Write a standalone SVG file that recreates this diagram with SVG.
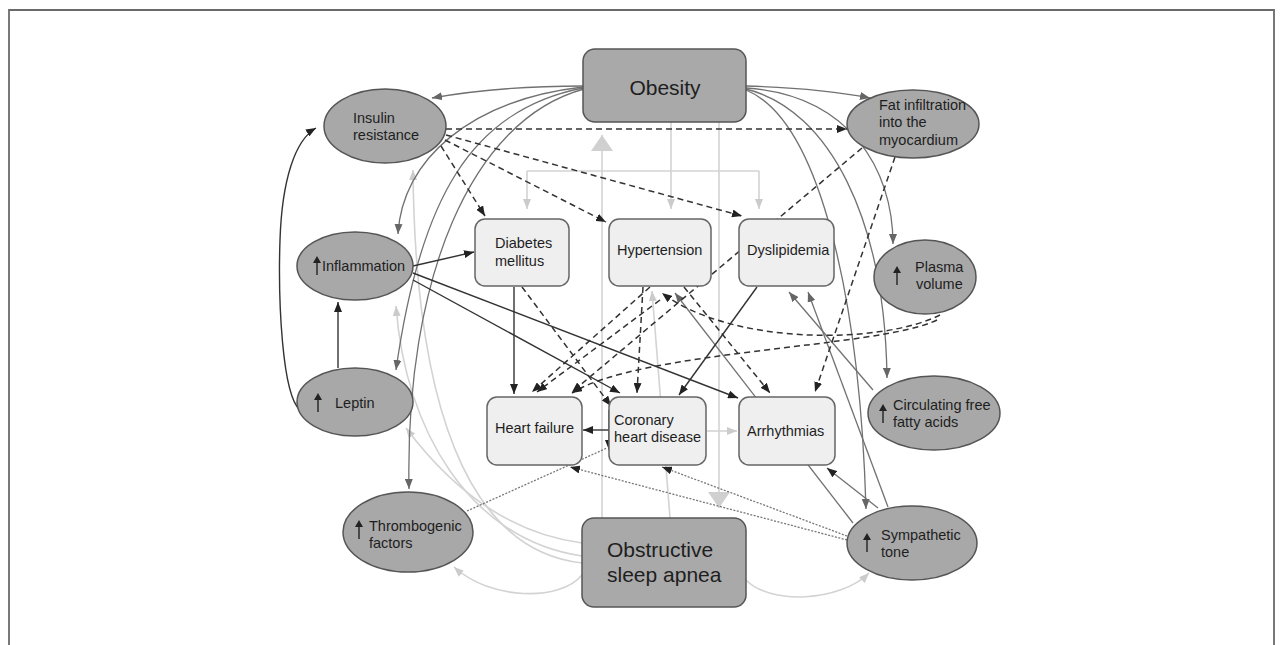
<svg xmlns="http://www.w3.org/2000/svg" width="1284" height="645" viewBox="0 0 1284 645">
<style>
.frame{fill:none;stroke:#6a6a6a;stroke-width:1.8}
.ell{fill:#a8a8a8;stroke:#555;stroke-width:1.5}
.big{fill:#a9a9a9;stroke:#555;stroke-width:1.5}
.box{fill:#efefef;stroke:#666;stroke-width:1.5}
.t{font-family:"Liberation Sans",Arial,sans-serif;font-size:14.5px;fill:#1e1e1e}
.tt{font-family:"Liberation Sans",Arial,sans-serif;font-size:21px;fill:#1e1e1e}
.cg{fill:none;stroke:#717171;stroke-width:1.3}
.cd{fill:none;stroke:#333;stroke-width:1.4}
.cl{fill:none;stroke:#d3d3d3;stroke-width:1.6}
.dash{fill:none;stroke:#333;stroke-width:1.5;stroke-dasharray:6 4}
.dot{fill:none;stroke:#777;stroke-width:1.3;stroke-dasharray:2 1.5}
.up{stroke:#222;stroke-width:1.4}
</style>
<defs>
<marker id="ad" markerUnits="userSpaceOnUse" markerWidth="10" markerHeight="8" refX="10" refY="4" orient="auto"><path d="M0,0 L10,4 L0,8 z" fill="#222"/></marker>
<marker id="ag" markerUnits="userSpaceOnUse" markerWidth="10" markerHeight="8" refX="10" refY="4" orient="auto"><path d="M0,0 L10,4 L0,8 z" fill="#666"/></marker>
<marker id="al" markerUnits="userSpaceOnUse" markerWidth="10" markerHeight="8" refX="10" refY="4" orient="auto"><path d="M0,0 L10,4 L0,8 z" fill="#cbcbcb"/></marker>
<marker id="aL" markerUnits="userSpaceOnUse" markerWidth="16" markerHeight="22" refX="16" refY="11" orient="auto"><path d="M0,0 L16,11 L0,22 z" fill="#d0d0d0"/></marker>
</defs>
<rect width="1284" height="645" fill="#fff"/>
<path class="frame" d="M9,645 V10 H1274 V645"/>

<g id="connectors">
<path class="cl" d="M582,543 C520,535 460,500 406,428" marker-end="url(#al)"/>
<path class="cl" d="M582,556 C470,540 405,430 396,306" marker-end="url(#al)"/>
<path class="cl" d="M582,563 C465,550 415,400 413,170" marker-end="url(#al)"/>
<path class="cl" d="M582,575 C560,602 490,600 454,567" marker-end="url(#al)"/>
<path class="cl" d="M746,580 C770,605 840,602 869,573" marker-end="url(#al)"/>
<path class="cl" d="M670,518 L652,291" marker-end="url(#al)"/>
<path class="cl" d="M602,518 V135" marker-end="url(#aL)"/>
<path class="cl" d="M719,122 V508" marker-end="url(#aL)"/>
<path class="cl" d="M671,122 V209" marker-end="url(#al)"/>
<path class="cl" d="M527,171 H759"/>
<path class="cl" d="M527,171 V209" marker-end="url(#al)"/>
<path class="cl" d="M759,171 V209" marker-end="url(#al)"/>
<path class="cl" d="M707,431 H737" marker-end="url(#al)"/>
<path class="cg" d="M583,86 Q500,86 432,98" marker-end="url(#ag)"/>
<path class="cg" d="M583,87 C470,100 402,160 398,234" marker-end="url(#ag)"/>
<path class="cg" d="M583,88 C470,110 420,200 396,370" marker-end="url(#ag)"/>
<path class="cg" d="M584,89 C470,120 405,280 409,489" marker-end="url(#ag)"/>
<path class="cg" d="M746,86 Q820,88 870,98" marker-end="url(#ag)"/>
<path class="cg" d="M746,88 C850,95 893,170 893,244" marker-end="url(#ag)"/>
<path class="cg" d="M746,89 C830,110 885,220 887,378" marker-end="url(#ag)"/>
<path class="cg" d="M746,90 C820,120 860,300 866,509" marker-end="url(#ag)"/>
<path class="cg" d="M873,390 L789,292" marker-end="url(#ag)"/>
<path class="cg" d="M888,507 L808,292" marker-end="url(#ag)"/>
<path class="cg" d="M853,523 L675,293" marker-end="url(#ag)"/>
<path class="cg" d="M878,508 L827,468" marker-end="url(#ad)"/>
<path class="dot" d="M847,540 L570,467" marker-end="url(#ad)"/>
<path class="dot" d="M847,536 L662,467" marker-end="url(#ad)"/>
<path class="dot" d="M467,511 L607,448"/>
<path class="cd" d="M514,287 V394" marker-end="url(#ad)"/>
<path class="cd" d="M413,266 L474,252" marker-end="url(#ad)"/>
<path class="cd" d="M413,280 L620,393" marker-end="url(#ad)"/>
<path class="cd" d="M413,273 L738,398" marker-end="url(#ad)"/>
<path class="cd" d="M757,287 L679,395" marker-end="url(#ad)"/>
<path class="cd" d="M338,368 V302" marker-end="url(#ad)"/>
<path class="cd" d="M300,410 C282,395 278,300 280,240 C282,180 295,140 316,128" marker-end="url(#ad)"/>
<path class="cd" d="M609,430 H583" marker-end="url(#ad)"/>
<path class="cd" d="M609,410 V450" marker-end="url(#ad)"/>
<path class="dash" d="M446,129 H847" marker-end="url(#ad)"/>
<path class="dash" d="M441,146 L485,216" marker-end="url(#ad)"/>
<path class="dash" d="M445,140 L606,222" marker-end="url(#ad)"/>
<path class="dash" d="M446,135 L742,216" marker-end="url(#ad)"/>
<path class="dash" d="M862,148 L572,392" marker-end="url(#ad)"/>
<path class="dash" d="M895,157 L815,392" marker-end="url(#ad)"/>
<path class="dash" d="M650,287 L532,392" marker-end="url(#ad)"/>
<path class="dash" d="M660,300 L537,392" marker-end="url(#ad)"/>
<path class="dash" d="M643,287 L637,393" marker-end="url(#ad)"/>
<path class="dash" d="M684,287 L770,393" marker-end="url(#ad)"/>
<path class="dash" d="M522,287 L611,406" marker-end="url(#ad)"/>
<path class="dash" d="M940,315 C880,345 730,345 662,293" marker-end="url(#ad)"/>
<path class="dash" d="M937,320 C880,348 640,350 572,393" marker-end="url(#ad)"/>
</g>

<g id="obesity">
<rect class="big" x="583" y="49" width="163" height="73" rx="12"/>
<text class="tt" x="665" y="95" text-anchor="middle">Obesity</text>
</g>
<g id="osa">
<rect class="big" x="582" y="518" width="164" height="89" rx="12"/>
<text class="tt" x="607" y="557">Obstructive</text>
<text class="tt" x="607" y="582">sleep apnea</text>
</g>
<g id="insulin-resistance">
<ellipse class="ell" cx="385" cy="126" rx="61" ry="37"/>
<text class="t" x="353" y="123">Insulin</text>
<text class="t" x="353" y="140">resistance</text>
</g>
<g id="fat-infiltration">
<ellipse class="ell" cx="913" cy="124" rx="66" ry="34"/>
<text class="t" x="879" y="110">Fat infiltration</text>
<text class="t" x="879" y="127">into the</text>
<text class="t" x="879" y="145">myocardium</text>
</g>
<g id="inflammation">
<ellipse class="ell" cx="355" cy="266" rx="58" ry="34"/>
<line class="up" x1="317" y1="275" x2="317" y2="262"/><path d="M313,263 L317,256 L321,263 z" fill="#222"/>
<text class="t" x="322" y="271">Inflammation</text>
</g>
<g id="leptin">
<ellipse class="ell" cx="355" cy="402" rx="58" ry="34"/>
<line class="up" x1="318" y1="412" x2="318" y2="399"/><path d="M314,400 L318,393 L322,400 z" fill="#222"/>
<text class="t" x="335" y="408">Leptin</text>
</g>
<g id="thrombogenic">
<ellipse class="ell" cx="408" cy="532" rx="65" ry="40"/>
<line class="up" x1="359" y1="539" x2="359" y2="526"/><path d="M355,527 L359,520 L363,527 z" fill="#222"/>
<text class="t" x="369" y="531">Thrombogenic</text>
<text class="t" x="369" y="548">factors</text>
</g>
<g id="plasma-volume">
<ellipse class="ell" cx="925" cy="277" rx="51" ry="37"/>
<line class="up" x1="897" y1="285" x2="897" y2="272"/><path d="M893,273 L897,266 L901,273 z" fill="#222"/>
<text class="t" x="915" y="272">Plasma</text>
<text class="t" x="916" y="289">volume</text>
</g>
<g id="ffa">
<ellipse class="ell" cx="934" cy="413" rx="66" ry="37"/>
<line class="up" x1="883" y1="423" x2="883" y2="410"/><path d="M879,411 L883,404 L887,411 z" fill="#222"/>
<text class="t" x="893" y="410">Circulating free</text>
<text class="t" x="893" y="427">fatty acids</text>
</g>
<g id="sympathetic">
<ellipse class="ell" cx="912" cy="543" rx="65" ry="37"/>
<line class="up" x1="867" y1="552" x2="867" y2="539"/><path d="M863,540 L867,533 L871,540 z" fill="#222"/>
<text class="t" x="881" y="540">Sympathetic</text>
<text class="t" x="881" y="557">tone</text>
</g>
<g id="diabetes">
<rect class="box" x="475" y="219" width="94" height="67" rx="10"/>
<text class="t" x="495" y="248">Diabetes</text>
<text class="t" x="495" y="266">mellitus</text>
</g>
<g id="hypertension">
<rect class="box" x="609" y="219" width="102" height="67" rx="10"/>
<text class="t" x="617" y="255">Hypertension</text>
</g>
<g id="dyslipidemia">
<rect class="box" x="739" y="219" width="95" height="67" rx="10"/>
<text class="t" x="747" y="255">Dyslipidemia</text>
</g>
<g id="heart-failure">
<rect class="box" x="487" y="397" width="95" height="68" rx="10"/>
<text class="t" x="495" y="433">Heart failure</text>
</g>
<g id="chd">
<rect class="box" x="609" y="397" width="97" height="68" rx="10"/>
<text class="t" x="614" y="425">Coronary</text>
<text class="t" x="614" y="442">heart disease</text>
</g>
<g id="arrhythmias">
<rect class="box" x="739" y="397" width="96" height="68" rx="10"/>
<text class="t" x="747" y="436">Arrhythmias</text>
</g>
</svg>
